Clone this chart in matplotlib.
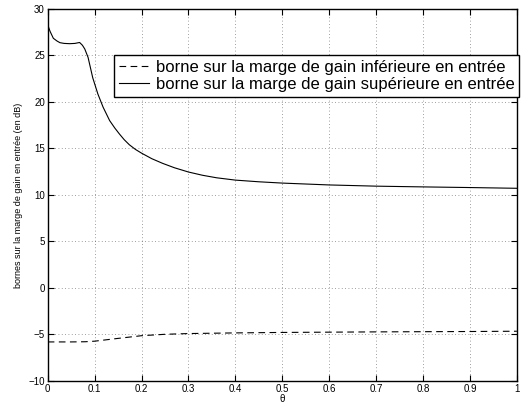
import numpy as np
import matplotlib
matplotlib.use('Agg')
import matplotlib.pyplot as plt

plt.rcParams['font.family'] = ['Liberation Sans', 'DejaVu Sans']

# borne superieure
theta_sup = [0.0, 0.005, 0.012, 0.02, 0.026, 0.035, 0.047, 0.058, 0.068, 0.074, 0.079, 0.086,
             0.096, 0.107, 0.118, 0.132, 0.143, 0.153, 0.163, 0.174, 0.187, 0.2, 0.222, 0.245,
             0.27, 0.30, 0.33, 0.36, 0.4, 0.45, 0.5, 0.6, 0.7, 0.8, 0.9, 1.0]
gm_sup = [28.3, 27.6, 26.85, 26.55, 26.38, 26.3, 26.27, 26.3, 26.4, 26.1, 25.7, 24.8,
          22.6, 20.85, 19.45, 18.0, 17.2, 16.55, 15.95, 15.4, 14.9, 14.5, 13.9, 13.4,
          12.93, 12.47, 12.12, 11.85, 11.6, 11.42, 11.28, 11.08, 10.95, 10.87, 10.8, 10.72]

# borne inferieure
theta_inf = [0.0, 0.05, 0.08, 0.1, 0.15, 0.2, 0.25, 0.3, 0.4, 0.5, 0.6, 0.7, 0.8, 0.9, 1.0]
gm_inf = [-5.8, -5.8, -5.78, -5.72, -5.42, -5.13, -4.98, -4.9, -4.83, -4.78, -4.75, -4.72,
          -4.7, -4.68, -4.65]

xticks = [0, 0.1, 0.2, 0.3, 0.4, 0.5, 0.6, 0.7, 0.8, 0.9, 1]
xlabels = ['0', '0.1', '0.2', '0.3', '0.4', '0.5', '0.6', '0.7', '0.8', '0.9', '1']
yticks = [-10, -5, 0, 5, 10, 15, 20, 25, 30]

fig = plt.figure(figsize=(5.26, 4.09), dpi=100)
ax = fig.add_axes([0.0907, 0.0685, 0.892, 0.9095])

ax.plot(theta_inf, gm_inf, 'k--', lw=0.8, dashes=(6, 4),
        label='borne sur la marge de gain inférieure en entrée')
ax.plot(theta_sup, gm_sup, 'k-', lw=0.8,
        label='borne sur la marge de gain supérieure en entrée')

ax.set_xlim(0, 1)
ax.set_ylim(-10, 30)
ax.set_xticks(xticks)
ax.set_xticklabels(xlabels)
ax.set_yticks(yticks)
ax.grid(True, linestyle=(0, (1, 3)), color='k', lw=0.6, alpha=0.5)
ax.tick_params(direction='in', top=True, right=True, labelsize=7, length=4, pad=2)
for s in ax.spines.values():
    s.set_linewidth(1.0)

ax.set_xlabel('θ', fontsize=7, labelpad=0)
ax.set_ylabel('bornes sur la marge de gain en entrée (en dB)', fontsize=6.5, labelpad=4)

leg = ax.legend(loc='upper left', bbox_to_anchor=(0.141, 0.876), borderaxespad=0,
                fontsize=12, fancybox=False, framealpha=1, edgecolor='k',
                handlelength=1.8, handletextpad=0.4, borderpad=0.3, labelspacing=0.1)
leg.get_frame().set_linewidth(1.0)

fig.savefig('out.png', dpi=100)
